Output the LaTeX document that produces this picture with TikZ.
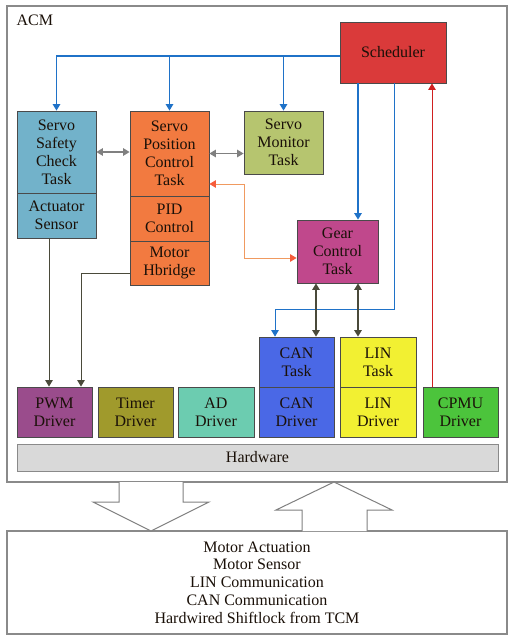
\documentclass[tikz,border=0pt]{standalone}
\usepackage{fontspec}
\setmainfont{Liberation Serif}
\usetikzlibrary{arrows.meta}
\definecolor{bordc}{HTML}{4A4A4A}
\definecolor{cSched}{HTML}{DA3A3A}
\definecolor{cSafe}{HTML}{72B2CA}
\definecolor{cPos}{HTML}{F27A40}
\definecolor{cMon}{HTML}{B6C56F}
\definecolor{cGear}{HTML}{C0488C}
\definecolor{cCan}{HTML}{4A68E6}
\definecolor{cLin}{HTML}{F2F032}
\definecolor{cPwm}{HTML}{9A4C8C}
\definecolor{cTimer}{HTML}{A09A2C}
\definecolor{cAd}{HTML}{6CCCB0}
\definecolor{cCpmu}{HTML}{4CC43C}
\definecolor{cHw}{HTML}{D9D9D9}
\definecolor{cBlue}{HTML}{1F72C8}
\definecolor{cOrange}{HTML}{F09A60}
\definecolor{cGray}{HTML}{808080}
\definecolor{cDark}{HTML}{4A4A3A}
\definecolor{cRed}{HTML}{D02020}
\definecolor{cFrame}{HTML}{8A8A8A}
\definecolor{cText}{HTML}{1A1008}
\tikzset{
  blk/.style={draw=bordc, line width=0.8pt, inner sep=0pt, align=center,
    text=cText, font=\fontsize{16}{18}\selectfont},
  tip/.style={-{Triangle[length=6.5pt,width=7.5pt]}},
  dtip/.style={{Triangle[length=6.5pt,width=7.5pt]}-{Triangle[length=6.5pt,width=7.5pt]}},
  bluearr/.style={tip, draw=cBlue, line width=1.2pt},
}
\begin{document}
\begin{tikzpicture}[x=1pt,y=-1pt]
\useasboundingbox (0,0) rectangle (512,640);
\fill[white] (0,0) rectangle (512,640);
% frames
\node[draw=cFrame, line width=1.2pt, minimum width=500pt, minimum height=476pt, inner sep=0pt] (acm) at (257,244) {};
\node[anchor=west, text=cText, font=\fontsize{16}{18}\selectfont] (acml) at (13,20) {ACM};
\node[draw=cFrame, line width=1.2pt, minimum width=500pt, minimum height=103pt, inner sep=0pt, align=center, text=cText, font=\fontsize{16}{17.8}\selectfont] (ext) at (257,582.5)
 {Motor Actuation\\Motor Sensor\\LIN Communication\\CAN Communication\\Hardwired Shiftlock from TCM};
% blocks
\node[blk, fill=cSched, minimum width=106pt, minimum height=61pt] (sched) at (393,52.5) {Scheduler};
\node[blk, fill=cSafe, minimum width=79pt, minimum height=82pt] (safety) at (56.5,152) {Servo\\Safety\\Check\\Task};
\node[blk, fill=cSafe, minimum width=79pt, minimum height=45pt] (actsens) at (56.5,215.5) {Actuator\\Sensor};
\node[blk, fill=cPos, minimum width=79pt, minimum height=85pt] (pos) at (169.5,153.5) {Servo\\Position\\Control\\Task};
\node[blk, fill=cPos, minimum width=79pt, minimum height=45pt] (pid) at (169.5,218.5) {PID\\Control};
\node[blk, fill=cPos, minimum width=79pt, minimum height=44pt] (hbridge) at (169.5,263) {Motor\\Hbridge};
\node[blk, fill=cMon, minimum width=79pt, minimum height=63pt] (monitor) at (283.5,142.5) {Servo\\Monitor\\Task};
\node[blk, fill=cGear, minimum width=81pt, minimum height=63pt] (gear) at (337.5,251.5) {Gear\\Control\\Task};
\node[blk, fill=cCan, minimum width=75pt, minimum height=50pt] (cantask) at (296.5,362) {CAN\\Task};
\node[blk, fill=cCan, minimum width=75pt, minimum height=50pt] (candrv) at (296.5,412) {CAN\\Driver};
\node[blk, fill=cLin, minimum width=76pt, minimum height=50pt] (lintask) at (378,362) {LIN\\Task};
\node[blk, fill=cLin, minimum width=76pt, minimum height=50pt] (lindrv) at (378,412) {LIN\\Driver};
\node[blk, fill=cPwm, minimum width=75pt, minimum height=50pt] (pwm) at (54.5,412) {PWM\\Driver};
\node[blk, fill=cTimer, minimum width=75pt, minimum height=50pt] (timer) at (135.5,412) {Timer\\Driver};
\node[blk, fill=cAd, minimum width=76pt, minimum height=50pt] (ad) at (216,412) {AD\\Driver};
\node[blk, fill=cCpmu, minimum width=75pt, minimum height=50pt] (cpmu) at (460.5,412) {CPMU\\Driver};
\node[blk, draw=cFrame, fill=cHw, minimum width=481pt, minimum height=27pt] (hw) at (257.5,457.5) {Hardware};
% helper coordinates
\coordinate (bus) at (340,56);
\coordinate (gx) at (358,0);
\coordinate (tx) at (394,0);
\coordinate (ty) at (0,309);
\coordinate (cx) at (275,0);
\coordinate (rx) at (432,0);
\coordinate (cgx) at (316,0);
\coordinate (ax) at (49,0);
\coordinate (hx) at (81,0);
\coordinate (hy) at (0,273);
\coordinate (ox) at (244,0);
\coordinate (oy) at (0,184);
\coordinate (og) at (0,258);
% scheduler bus
\draw[bluearr] (bus) -| (safety.north);
\draw[bluearr] (pos.north |- bus) -- (pos.north);
\draw[bluearr] (monitor.north |- bus) -- (monitor.north);
\draw[bluearr] (sched.south -| gx) -- (gx |- gear.north);
\draw[tip, draw=cBlue, line width=0.8pt] (sched.south -| tx) -- (tx |- ty) -| (cx |- cantask.north);
\draw[tip, draw=cRed, line width=1pt] (rx |- cpmu.north) -- (rx |- sched.south);
% gray double arrows
\draw[dtip, draw=cGray, line width=1.3pt] (safety.east) -- (safety.east -| pos.west);
\draw[dtip, draw=cGray, line width=1.3pt] (pos.east) -- (pos.east -| monitor.west);
% orange
\draw[dtip, draw=cOrange, line width=1pt, {Triangle[length=6.5pt,width=7.5pt,color=cOrange!60!red]}-{Triangle[length=6.5pt,width=7.5pt,color=cOrange!60!red]}] (pos.east |- oy) -| (ox |- og) -- (gear.west |- og);
% gear to CAN/LIN
\draw[dtip, draw=cDark, line width=1.2pt] (cgx |- gear.south) -- (cgx |- cantask.north);
\draw[dtip, draw=cDark, line width=1.2pt] (gx |- gear.south) -- (gx |- lintask.north);
% to PWM
\draw[tip, draw=cDark, line width=1pt] (ax |- actsens.south) -- (ax |- pwm.north);
\draw[tip, draw=cDark, line width=1pt] (hbridge.west |- hy) -| (hx |- pwm.north);
% block arrows
\draw[cGray, line width=1pt, fill=white] (119,482) -- (119,502) -- (93,502) -- (151,531) -- (209,502) -- (183,502) -- (183,482);
\draw[cGray, line width=1pt, fill=white] (302,531) -- (302,510) -- (276,510) -- (334,482) -- (392,510) -- (367,510) -- (367,531);
\end{tikzpicture}
\end{document}
